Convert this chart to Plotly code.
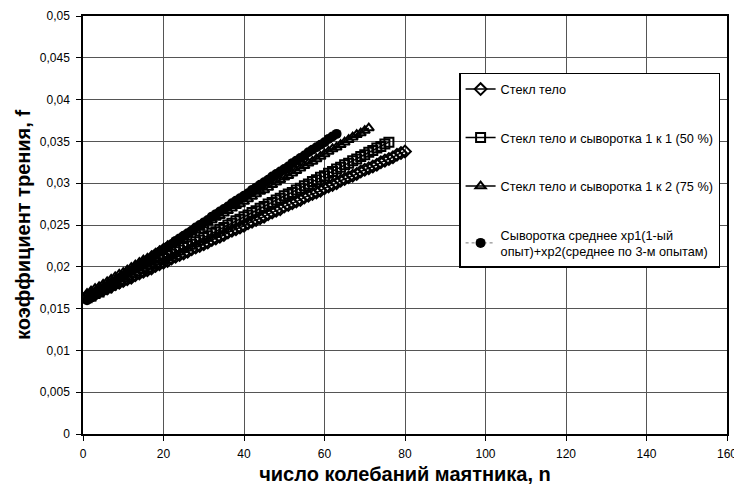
import plotly.graph_objects as go

# --- data ---
f_glass = [0.0163, 0.0165, 0.0167, 0.0170, 0.0172, 0.0174, 0.0176, 0.0179, 0.0181, 0.0183,
           0.0185, 0.0187, 0.0190, 0.0192, 0.0194, 0.0196, 0.0198, 0.0201, 0.0203, 0.0205,
           0.0207, 0.0210, 0.0212, 0.0214, 0.0216, 0.0218, 0.0221, 0.0223, 0.0225, 0.0227,
           0.0229, 0.0232, 0.0234, 0.0236, 0.0238, 0.0241, 0.0243, 0.0245, 0.0247, 0.0249,
           0.0252, 0.0254, 0.0256, 0.0258, 0.0260, 0.0263, 0.0265, 0.0267, 0.0269, 0.0272,
           0.0274, 0.0276, 0.0278, 0.0280, 0.0283, 0.0285, 0.0287, 0.0289, 0.0291, 0.0294,
           0.0296, 0.0298, 0.0300, 0.0303, 0.0305, 0.0307, 0.0309, 0.0311, 0.0314, 0.0316,
           0.0318, 0.0320, 0.0322, 0.0325, 0.0327, 0.0329, 0.0331, 0.0334, 0.0336, 0.0338]

f_mix_50 = [0.0163, 0.0165, 0.0168, 0.0170, 0.0173, 0.0175, 0.0178, 0.0180, 0.0183, 0.0185,
            0.0188, 0.0190, 0.0193, 0.0195, 0.0198, 0.0200, 0.0203, 0.0205, 0.0208, 0.0210,
            0.0213, 0.0215, 0.0218, 0.0220, 0.0223, 0.0225, 0.0227, 0.0230, 0.0232, 0.0235,
            0.0237, 0.0240, 0.0242, 0.0245, 0.0247, 0.0250, 0.0252, 0.0255, 0.0257, 0.0260,
            0.0262, 0.0265, 0.0267, 0.0270, 0.0272, 0.0275, 0.0277, 0.0280, 0.0282, 0.0285,
            0.0287, 0.0289, 0.0292, 0.0294, 0.0297, 0.0299, 0.0302, 0.0304, 0.0307, 0.0309,
            0.0312, 0.0314, 0.0317, 0.0319, 0.0322, 0.0324, 0.0327, 0.0329, 0.0332, 0.0334,
            0.0337, 0.0339, 0.0342, 0.0344, 0.0347, 0.0349]

f_mix_75 = [0.0168, 0.0171, 0.0174, 0.0176, 0.0179, 0.0182, 0.0185, 0.0188, 0.0191, 0.0193,
            0.0196, 0.0199, 0.0202, 0.0205, 0.0208, 0.0210, 0.0213, 0.0216, 0.0219, 0.0222,
            0.0225, 0.0227, 0.0230, 0.0233, 0.0236, 0.0239, 0.0242, 0.0244, 0.0247, 0.0250,
            0.0253, 0.0256, 0.0259, 0.0261, 0.0264, 0.0267, 0.0270, 0.0273, 0.0275, 0.0278,
            0.0281, 0.0284, 0.0287, 0.0290, 0.0292, 0.0295, 0.0298, 0.0301, 0.0304, 0.0307,
            0.0309, 0.0312, 0.0315, 0.0318, 0.0321, 0.0324, 0.0326, 0.0329, 0.0332, 0.0335,
            0.0338, 0.0341, 0.0343, 0.0346, 0.0349, 0.0352, 0.0355, 0.0358, 0.0360, 0.0363,
            0.0366]

f_serum = [0.0160, 0.0163, 0.0166, 0.0170, 0.0173, 0.0176, 0.0179, 0.0182, 0.0186, 0.0189,
           0.0192, 0.0195, 0.0199, 0.0202, 0.0205, 0.0208, 0.0211, 0.0215, 0.0218, 0.0221,
           0.0224, 0.0227, 0.0231, 0.0234, 0.0237, 0.0240, 0.0243, 0.0247, 0.0250, 0.0253,
           0.0256, 0.0260, 0.0263, 0.0266, 0.0269, 0.0272, 0.0276, 0.0279, 0.0282, 0.0285,
           0.0288, 0.0292, 0.0295, 0.0298, 0.0301, 0.0304, 0.0308, 0.0311, 0.0314, 0.0317,
           0.0320, 0.0324, 0.0327, 0.0330, 0.0333, 0.0337, 0.0340, 0.0343, 0.0346, 0.0349,
           0.0353, 0.0356, 0.0359]

n_glass = list(range(1, len(f_glass) + 1))
n_mix_50 = list(range(1, len(f_mix_50) + 1))
n_mix_75 = list(range(1, len(f_mix_75) + 1))
n_serum = list(range(1, len(f_serum) + 1))

series_names = [
    "Стекл тело",
    "Стекл тело и сыворотка 1 к 1 (50 %)",
    "Стекл тело и сыворотка 1 к 2 (75 %)",
    "Сыворотка среднее хр1(1-ый<br>опыт)+хр2(среднее по 3-м опытам)",
]

y_tick_vals = [0, 0.005, 0.01, 0.015, 0.02, 0.025, 0.03, 0.035, 0.04, 0.045, 0.05]
y_tick_text = ["0", "0,005", "0,01", "0,015", "0,02", "0,025", "0,03", "0,035", "0,04", "0,045", "0,05"]
x_tick_vals = [0, 20, 40, 60, 80, 100, 120, 140, 160]

FONT = "Liberation Sans, Arial, sans-serif"

fig = go.Figure()
fig.add_trace(go.Scatter(
    x=n_glass, y=f_glass, name=series_names[0], mode="lines+markers", legendgroup="a",
    line=dict(color="black", width=1.5),
    marker=dict(symbol="diamond-open", size=9, color="black", line=dict(width=2)),
))
fig.add_trace(go.Scatter(
    x=n_mix_50, y=f_mix_50, name=series_names[1], mode="lines+markers", legendgroup="b",
    line=dict(color="black", width=1.5),
    marker=dict(symbol="square-open", size=9, color="black", line=dict(width=2)),
))
fig.add_trace(go.Scatter(
    x=n_mix_75, y=f_mix_75, name=series_names[2], mode="lines+markers", legendgroup="c",
    line=dict(color="black", width=1.5),
    marker=dict(symbol="triangle-up-open", size=9, color="black", line=dict(width=2)),
))
fig.add_trace(go.Scatter(
    x=n_serum, y=f_serum, name=series_names[3], mode="lines+markers", legendgroup="d",
    line=dict(color="#777777", width=1, dash="dot"),
    marker=dict(symbol="circle", size=10, color="black"),
))

# the page body adds an 8 px offset, so the figure is 8 px smaller on each side
fig.update_layout(
    width=734, height=487,
    margin=dict(l=75, r=15, t=8, b=61, autoexpand=False),
    paper_bgcolor="white", plot_bgcolor="white",
    font=dict(family=FONT, color="black", size=12),
    showlegend=True,
    legend=dict(
        x=0.584, y=0.864, xanchor="left", yanchor="top",
        bgcolor="white", bordercolor="black", borderwidth=1.5,
        font=dict(family=FONT, size=12.7, color="black"),
        tracegroupgap=29, itemwidth=30, entrywidth=262,
    ),
)
fig.update_xaxes(
    range=[0, 160], tickvals=x_tick_vals, automargin=False,
    showline=True, linecolor="black", linewidth=1.5, mirror=True,
    showgrid=True, gridcolor="#555555", gridwidth=1,
    ticks="outside", ticklen=5, tickcolor="black", ticklabelstandoff=3,
    zeroline=False,
    title=dict(text="<b>число колебаний маятника, n</b>", font=dict(family=FONT, size=20), standoff=7),
)
fig.update_yaxes(
    range=[0, 0.05], tickvals=y_tick_vals, ticktext=y_tick_text, automargin=False,
    showline=True, linecolor="black", linewidth=1.5, mirror=True,
    showgrid=True, gridcolor="#555555", gridwidth=1,
    ticks="outside", ticklen=5, tickcolor="black", ticklabelstandoff=4,
    zeroline=False,
    title=dict(text="<b>коэффициент трения, f</b>", font=dict(family=FONT, size=20), standoff=4),
)

fig.write_html("out.html")
